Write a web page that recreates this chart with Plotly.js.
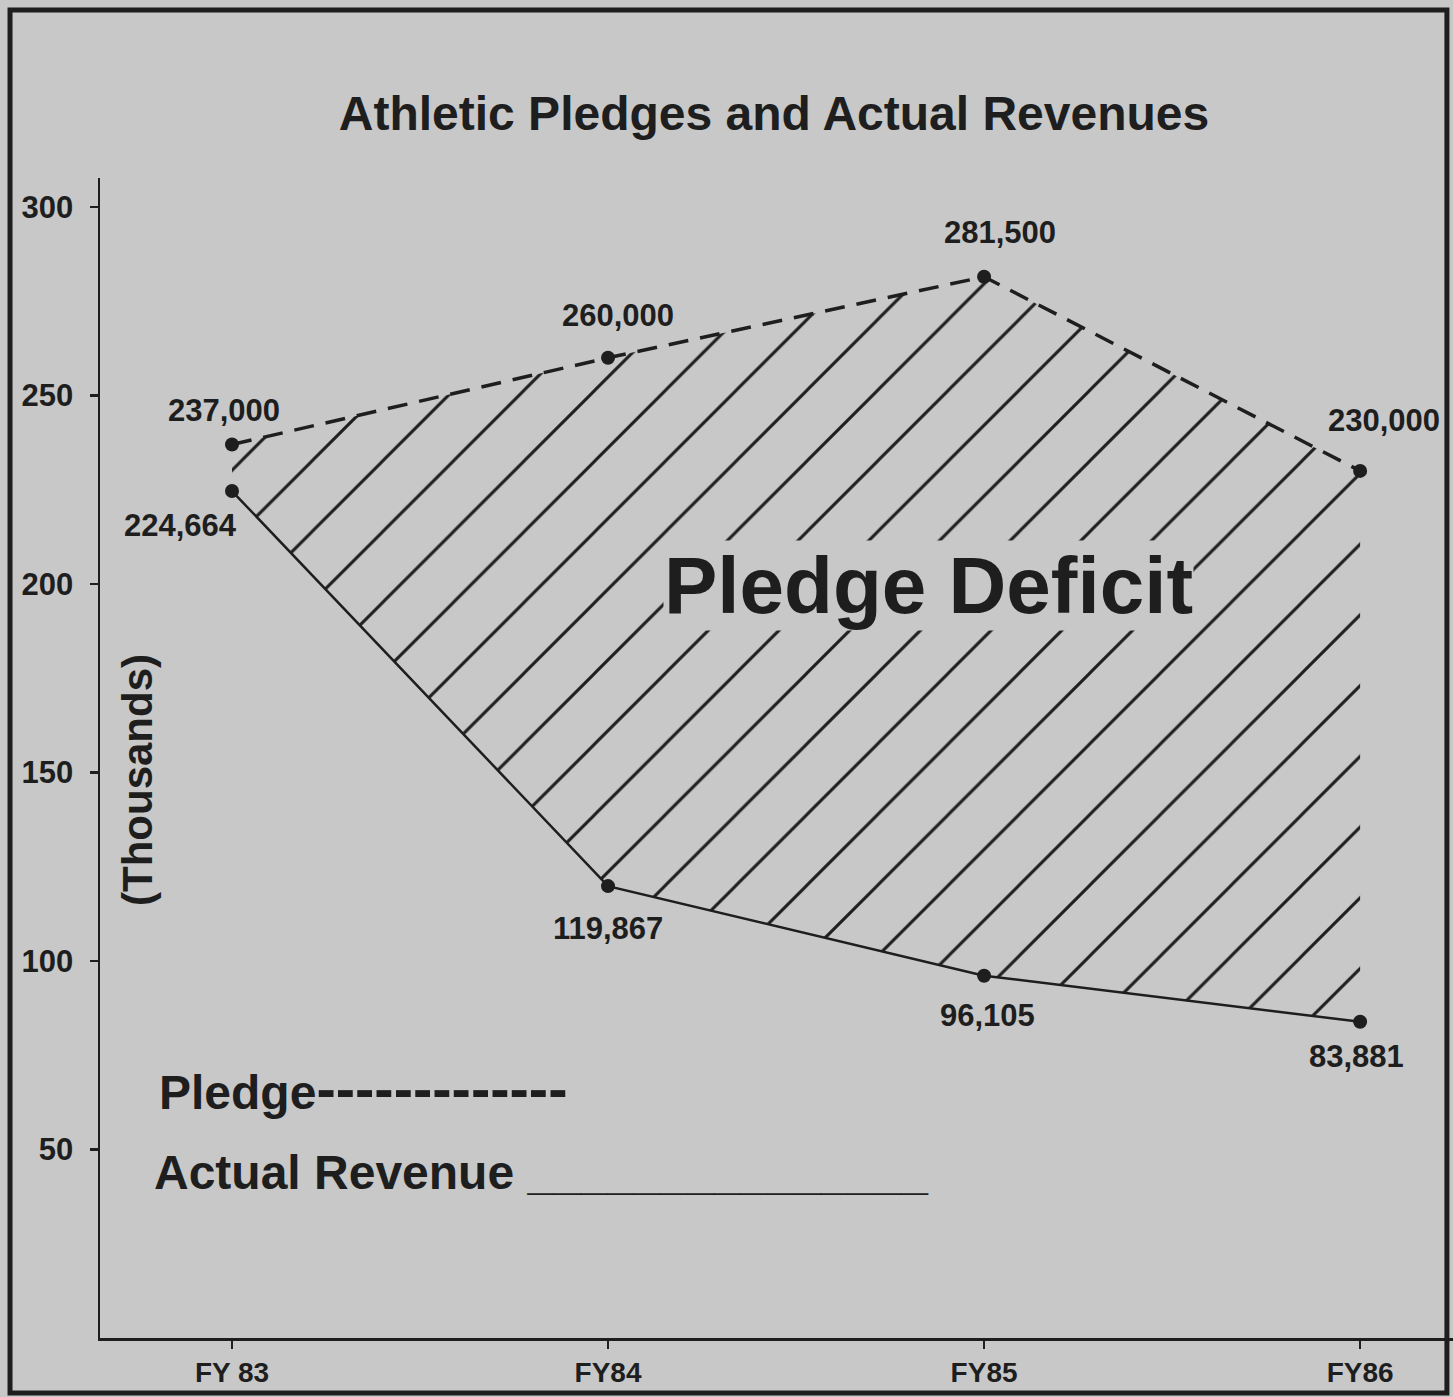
<!DOCTYPE html>
<html>
<head>
<meta charset="utf-8">
<script src="https://cdn.plot.ly/plotly-3.0.1.min.js"></script>
<style>
  html, body { margin: 0; padding: 0; background: #c8c8c8; }
  #chart { width: 1453px; height: 1397px; }
</style>
</head>
<body>
<div id="chart"></div>
<script>
// ---- data ----
const categories = ['FY 83', 'FY84', 'FY85', 'FY86'];
const pledge = [237000, 260000, 281500, 230000];
const revenue = [224664, 119867, 96105, 83881];
const yTickVals = [50000, 100000, 150000, 200000, 250000, 300000];
const yTickText = ['50', '100', '150', '200', '250', '300'];

// ---- label offsets (pixels, style only) ----
const pledgeDx = [-8, 10, 16, 24];
const pledgeDy = [34, 42, 44, 50];
const revenueDx = [-51, 0, 3, -4];
const revenueDy = [-34, -42, -40, -35];

const INK = '#1e1e1e';
const PAPER = '#c8c8c8';
const FONT = 'Liberation Sans, Arial, sans-serif';

const fmt = v => v.toLocaleString('en-US');

const traces = [
  {
    x: categories, y: revenue, type: 'scatter', mode: 'lines+markers',
    line: { color: INK, width: 2.5 },
    marker: { color: INK, size: 14 },
    showlegend: false, hoverinfo: 'skip'
  },
  {
    x: categories, y: pledge, type: 'scatter', mode: 'lines+markers',
    line: { color: INK, width: 3.5, dash: '20px,12px' },
    marker: { color: INK, size: 14 },
    fill: 'tonexty',
    fillcolor: 'rgba(0,0,0,0)',
    fillpattern: { shape: '/', size: 50, solidity: 0.06, fgcolor: INK, fgopacity: 1, bgcolor: 'rgba(0,0,0,0)', fillmode: 'overlay' },
    showlegend: false, hoverinfo: 'skip'
  }
];

const annotations = [];
pledge.forEach((v, i) => annotations.push({
  x: categories[i], y: v, xref: 'x', yref: 'y', text: fmt(v), showarrow: false,
  xshift: pledgeDx[i], yshift: pledgeDy[i],
  font: { family: FONT, size: 31, color: INK, weight: 'bold' }
}));
revenue.forEach((v, i) => annotations.push({
  x: categories[i], y: v, xref: 'x', yref: 'y', text: fmt(v), showarrow: false,
  xshift: revenueDx[i], yshift: revenueDy[i],
  font: { family: FONT, size: 31, color: INK, weight: 'bold' }
}));
annotations.push({
  x: 1.851, y: 199700, xref: 'x', yref: 'y', text: 'Pledge Deficit', showarrow: false,
  bgcolor: PAPER, borderpad: 0,
  font: { family: FONT, size: 80, color: INK, weight: 'bold' }
});
annotations.push({
  x: 0.0273, y: 0.481, xref: 'paper', yref: 'paper', xanchor: 'center', yanchor: 'middle',
  text: '(Thousands)', showarrow: false,
  textangle: -90,
  font: { family: FONT, size: 42, color: INK, weight: 'bold' }
});
annotations.push({
  x: 0.042, y: 0.2155, xref: 'paper', yref: 'paper', xanchor: 'left', yanchor: 'middle',
  text: 'Pledge<span style="font-size:58px">-------------</span>', showarrow: false,
  font: { family: FONT, size: 48, color: INK, weight: 'bold' }
});
annotations.push({
  x: 0.0384, y: 0.143, xref: 'paper', yref: 'paper', xanchor: 'left', yanchor: 'middle',
  text: 'Actual Revenue _______________', showarrow: false,
  font: { family: FONT, size: 48, color: INK, weight: 'bold' }
});

const layout = {
  width: 1453, height: 1397,
  paper_bgcolor: PAPER, plot_bgcolor: PAPER,
  margin: { l: 100, r: 0, t: 178, b: 59 },
  title: {
    text: 'Athletic Pledges and Actual Revenues',
    x: 0.5327, xanchor: 'center', y: 0.919, yanchor: 'middle',
    font: { family: FONT, size: 48, color: INK, weight: 'bold' }
  },
  xaxis: {
    type: 'category',
    range: [-0.351, 3.247],
    showgrid: false, zeroline: false,
    showline: true, linecolor: INK, linewidth: 2.5,
    ticks: 'outside', ticklen: 8, tickwidth: 2.5, tickcolor: INK,
    ticklabelstandoff: 0,
    tickfont: { family: FONT, size: 28, color: INK, weight: 'bold' }
  },
  yaxis: {
    range: [0, 307700],
    showgrid: false, zeroline: false,
    showline: true, linecolor: INK, linewidth: 2.5,
    tickvals: yTickVals, ticktext: yTickText,
    ticks: 'outside', ticklen: 8, tickwidth: 2.5, tickcolor: INK,
    ticklabelstandoff: 10,
    tickfont: { family: FONT, size: 31, color: INK, weight: 'bold' }
  },
  annotations: annotations,
  shapes: [{
    type: 'rect', xref: 'paper', yref: 'paper',
    x0: -0.0665, x1: 0.9955, y0: -0.0474, y1: 1.1448,
    line: { color: INK, width: 5 }, fillcolor: 'rgba(0,0,0,0)', layer: 'above'
  }],
  showlegend: false
};

Plotly.newPlot('chart', traces, layout, { displayModeBar: false, staticPlot: true });
</script>
</body>
</html>
